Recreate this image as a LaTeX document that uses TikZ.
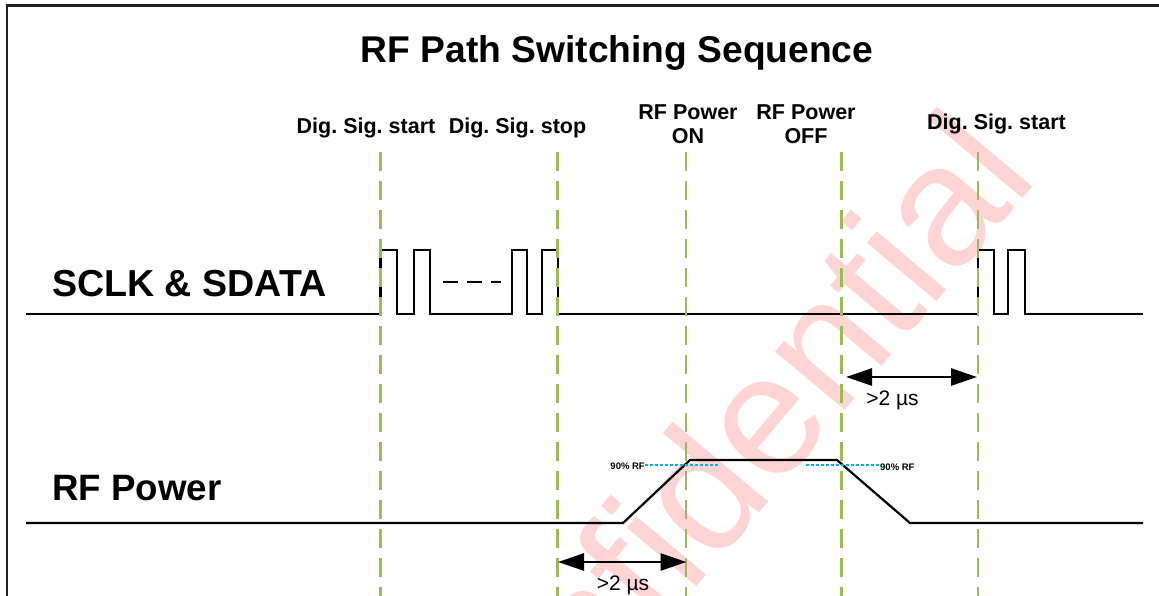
\documentclass[tikz,border=0pt]{standalone}
\usepackage{fontspec}
\setmainfont{Liberation Sans}
\usetikzlibrary{arrows.meta}
\definecolor{guide}{RGB}{155,187,89}
\definecolor{pct}{RGB}{0,176,240}
\definecolor{wm}{RGB}{255,212,212}
\frenchspacing
\begin{document}
\begin{tikzpicture}[x=1pt,y=-1pt,
  wave/.style={line width=2.2pt, black},
  guideline/.style={guide, line width=2.6pt, dash pattern=on 19pt off 10pt},
  lbl/.style={font=\bfseries\fontsize{21.5}{25}\selectfont, inner sep=0pt, anchor=base},
  sig/.style={font=\bfseries\fontsize{37}{40}\selectfont, inner sep=0pt, anchor=base west},
  pctlbl/.style={font=\bfseries\fontsize{9.5}{11}\selectfont, inner sep=0pt},
  pctline/.style={pct, line width=2pt, dash pattern=on 3pt off 2pt},
  dim/.style={line width=2.6pt, {Triangle[length=26pt,width=17pt]}-{Triangle[length=26pt,width=17pt]}},
  dimlbl/.style={font=\fontsize{21}{24}\selectfont, inner sep=0pt, anchor=base}
]
\useasboundingbox (0,0) rectangle (1159,595);
\clip (0,0) rectangle (1159,595);

% watermark
\node[text=wm, font=\fontsize{172}{180}\selectfont, rotate=50, anchor=base, inner sep=0pt] (wmark) at (748,526) {Confidential};

% frame
\draw[line width=2.7pt, black!88] (7,605) -- (7,5.5) -- (1170,5.5);

% title and signal names
\node[font=\bfseries\fontsize{37.2}{42}\selectfont, inner sep=0pt, anchor=base] (title) at (617,62) {RF Path Switching Sequence};
\node[sig, font=\bfseries\fontsize{37.6}{40}\selectfont] (sclk) at (52,296) {SCLK \& SDATA};
\node[sig, font=\bfseries\fontsize{36.7}{40}\selectfont] (rfp) at (52,500) {RF Power};

% event labels
\node[lbl] (l1) at (366,133) {Dig. Sig. start};
\node[lbl] (l2) at (517.5,133) {Dig. Sig. stop};
\node[lbl] (l3a) at (688,119) {RF Power};
\node[lbl] (l3b) at (688,143) {ON};
\node[lbl] (l4a) at (806,119) {RF Power};
\node[lbl] (l4b) at (806,143) {OFF};
\node[lbl] (l5) at (996.5,129.5) {Dig. Sig. start};

% waveforms
\draw[wave] (26,314) -- (380.5,314) -- (380.5,250) -- (397,250) -- (397,314) -- (414,314) -- (414,250) -- (430,250) -- (430,314)
  -- (512,314) -- (512,250) -- (527,250) -- (527,314) -- (542,314) -- (542,250) -- (558,250) -- (558,314)
  -- (978,314) -- (978,250) -- (994,250) -- (994,314) -- (1008,314) -- (1008,250) -- (1025,250) -- (1025,314) -- (1143,314);
\draw[wave, dash pattern=on 15pt off 9pt] (443,282) -- (501,282);
\draw[wave] (26,523) -- (623,523) -- (690,460) -- (837,460) -- (910,523) -- (1143,523);

% 90% RF markers
\node[pctlbl, anchor=base east] (p1) at (645,469.5) {90\% RF};
\node[pctlbl, anchor=base west] (p2) at (880,470) {90\% RF};
\coordinate (p1e) at (718,465);
\coordinate (p2s) at (806,465);
\draw[pctline] (p1.east |- p1e) -- (p1e);
\draw[pctline] (p2s) -- (p2.west |- p2s);

% guide lines
\foreach \n/\gx in {1/380.5,2/557.5,3/686,4/841.5,5/978}{
  \coordinate (g\n t) at (\gx,152);
  \coordinate (g\n b) at (\gx,600);
  \draw[guideline] (g\n t) -- (g\n b);
}

% timing arrows
\coordinate (d1a) at (558,562);
\coordinate (d1b) at (686.5,562);
\coordinate (d2a) at (846,377);
\coordinate (d2b) at (977,377);
\draw[dim] (d1a) -- (d1b);
\draw[dim] (d2a) -- (d2b);
\node[dimlbl] (t1) at (623,590) {>2 µs};
\node[dimlbl] (t2) at (892.5,405) {>2 µs};
\end{tikzpicture}
\end{document}
